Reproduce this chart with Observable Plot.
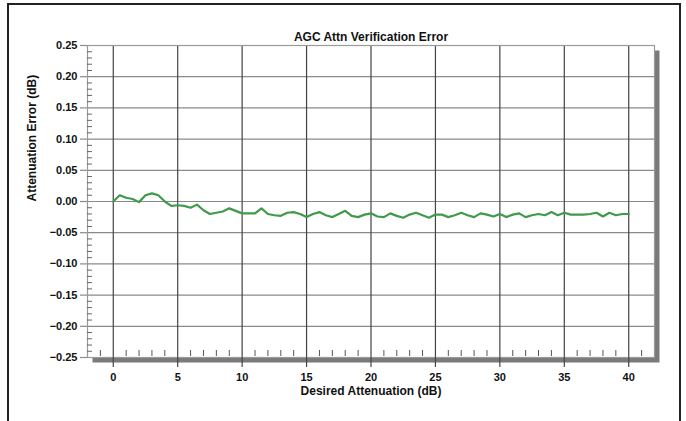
<!DOCTYPE html>
<html>
<head>
<meta charset="utf-8">
<script src="https://cdn.jsdelivr.net/npm/d3@7"></script>
<script src="https://cdn.jsdelivr.net/npm/@observablehq/plot@0.6"></script>
<style>
  html, body { margin: 0; padding: 0; background: #fff; width: 686px; height: 421px; overflow: hidden; }
  #border { position: absolute; left: 7px; top: 3px; width: 674px; height: 440px; border: 2px solid #222; box-sizing: border-box; }
  #chart { position: absolute; left: 0; top: 0; }
  svg { font-family: "Liberation Sans", Arial, sans-serif; }
</style>
</head>
<body>
<div id="border"></div>
<div id="chart"></div>
<script>
const title = "AGC Attn Verification Error";
const xLabel = "Desired Attenuation (dB)";
const yLabel = "Attenuation Error (dB)";

const attenuation = [
  0, 0.5, 1, 1.5, 2, 2.5, 3, 3.5, 4, 4.5,
  5, 5.5, 6, 6.5, 7, 7.5, 8, 8.5, 9, 9.5,
  10, 10.5, 11, 11.5, 12, 12.5, 13, 13.5, 14, 14.5,
  15, 15.5, 16, 16.5, 17, 17.5, 18, 18.5, 19, 19.5,
  20, 20.5, 21, 21.5, 22, 22.5, 23, 23.5, 24, 24.5,
  25, 25.5, 26, 26.5, 27, 27.5, 28, 28.5, 29, 29.5,
  30, 30.5, 31, 31.5, 32, 32.5, 33, 33.5, 34, 34.5,
  35, 35.5, 36, 36.5, 37, 37.5, 38, 38.5, 39, 39.5, 40
];
const error = [
  0.000, 0.010, 0.006, 0.004, -0.001, 0.010, 0.013, 0.010, 0.000, -0.007,
  -0.006, -0.007, -0.010, -0.005, -0.014, -0.020, -0.018, -0.016, -0.011, -0.015,
  -0.019, -0.019, -0.019, -0.011, -0.020, -0.022, -0.023, -0.018, -0.017, -0.020,
  -0.025, -0.020, -0.017, -0.022, -0.025, -0.020, -0.015, -0.023, -0.025, -0.021,
  -0.019, -0.024, -0.025, -0.019, -0.023, -0.026, -0.021, -0.018, -0.022, -0.026,
  -0.021, -0.021, -0.025, -0.022, -0.018, -0.022, -0.025, -0.019, -0.021, -0.024,
  -0.020, -0.025, -0.021, -0.019, -0.025, -0.022, -0.020, -0.022, -0.017, -0.022,
  -0.018, -0.021, -0.021, -0.021, -0.020, -0.018, -0.024, -0.018, -0.022, -0.020, -0.020
];

const xMajorTicks = [0, 5, 10, 15, 20, 25, 30, 35, 40];
const xMinorTicks = d3.range(-1, 42).filter(v => v % 5 !== 0);
const yMajorTicks = [0.25, 0.20, 0.15, 0.10, 0.05, 0.00, -0.05, -0.10, -0.15, -0.20, -0.25];
const yMinorTicks = d3.range(-25, 25).map(v => v / 100).filter((v, i) => Math.round(v * 100) % 5 !== 0);

const data = attenuation.map((a, i) => ({a, e: error[i]}));
const fmt = d3.format(".2f");

const chart = Plot.plot({
  width: 686,
  height: 421,
  marginTop: 45,
  marginBottom: 64,
  marginLeft: 87,
  marginRight: 32,
  style: {background: "transparent", fontFamily: "'Liberation Sans', Arial, sans-serif"},
  x: {domain: [-2, 42]},
  y: {domain: [-0.25, 0.25]},
  marks: [
    Plot.frame({fill: "#7a7a7a", dx: 5, dy: 5}),
    Plot.frame({fill: "#fff"}),
    Plot.gridY(yMajorTicks, {stroke: "#8a8a8a", strokeOpacity: 1, strokeWidth: 1.2}),
    Plot.gridX(xMajorTicks, {stroke: "#444", strokeOpacity: 1, strokeWidth: 1.2}),
    Plot.frame({stroke: "#9a9a9a", strokeWidth: 1.2}),
    Plot.axisY({ticks: yMajorTicks, tickSize: 7, tickPadding: 3, tickFormat: fmt, label: null,
      fontSize: 11, fontWeight: "bold", fill: "#111", stroke: "#8a8a8a", strokeWidth: 1.2}),
    Plot.axisY({ticks: yMinorTicks, tickSize: -5, tickFormat: () => "", label: null, stroke: "#666"}),
    Plot.axisX({ticks: xMajorTicks, tickSize: 10, tickPadding: 6, tickFormat: d => d, label: null,
      fontSize: 11, fontWeight: "bold", fill: "#111", stroke: "#444", strokeWidth: 1.2}),
    Plot.axisX({ticks: xMinorTicks, tickSize: -6, tickFormat: () => "", label: null, stroke: "#555", dy: -1}),
    Plot.line(data, {x: "a", y: "e", stroke: "#3f9a4a", strokeWidth: 2.2, curve: "linear"}),
    Plot.text([title], {frameAnchor: "top", dy: -13, fontSize: 12, fontWeight: "bold", fill: "#111"}),
    Plot.text([xLabel], {frameAnchor: "bottom", dy: 37, fontSize: 12, fontWeight: "bold", fill: "#111"}),
    Plot.text([yLabel], {frameAnchor: "left", dx: -55, rotate: -90, fontSize: 12, fontWeight: "bold", fill: "#111"})
  ]
});
document.getElementById("chart").appendChild(chart);
</script>
</body>
</html>
